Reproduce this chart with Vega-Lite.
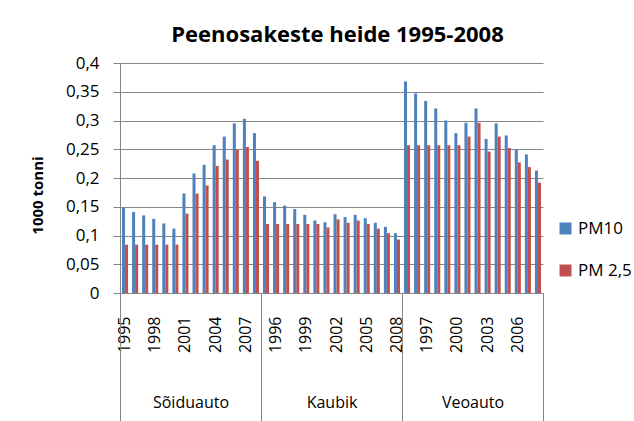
{
  "$schema": "https://vega.github.io/schema/vega-lite/v6.json",
  "width": 423,
  "height": 230,
  "autosize": {"type": "none"},
  "padding": {"left": 120, "top": 63, "right": 91, "bottom": 128},
  "background": "white",
  "title": {"text": "Peenosakeste heide 1995-2008", "font": "Open Sans", "fontSize": 22, "fontWeight": "bold", "color": "black", "anchor": "middle", "offset": 7, "dx": 6},
  "data": {"values": [
    {"group":"Sõiduauto","cat":"Sõiduauto 1995","series":"PM10","value":0.148},{"group":"Sõiduauto","cat":"Sõiduauto 1995","series":"PM 2,5","value":0.084},
    {"group":"Sõiduauto","cat":"Sõiduauto 1996","series":"PM10","value":0.141},{"group":"Sõiduauto","cat":"Sõiduauto 1996","series":"PM 2,5","value":0.084},
    {"group":"Sõiduauto","cat":"Sõiduauto 1997","series":"PM10","value":0.135},{"group":"Sõiduauto","cat":"Sõiduauto 1997","series":"PM 2,5","value":0.084},
    {"group":"Sõiduauto","cat":"Sõiduauto 1998","series":"PM10","value":0.129},{"group":"Sõiduauto","cat":"Sõiduauto 1998","series":"PM 2,5","value":0.084},
    {"group":"Sõiduauto","cat":"Sõiduauto 1999","series":"PM10","value":0.121},{"group":"Sõiduauto","cat":"Sõiduauto 1999","series":"PM 2,5","value":0.084},
    {"group":"Sõiduauto","cat":"Sõiduauto 2000","series":"PM10","value":0.112},{"group":"Sõiduauto","cat":"Sõiduauto 2000","series":"PM 2,5","value":0.084},
    {"group":"Sõiduauto","cat":"Sõiduauto 2001","series":"PM10","value":0.173},{"group":"Sõiduauto","cat":"Sõiduauto 2001","series":"PM 2,5","value":0.138},
    {"group":"Sõiduauto","cat":"Sõiduauto 2002","series":"PM10","value":0.208},{"group":"Sõiduauto","cat":"Sõiduauto 2002","series":"PM 2,5","value":0.173},
    {"group":"Sõiduauto","cat":"Sõiduauto 2003","series":"PM10","value":0.223},{"group":"Sõiduauto","cat":"Sõiduauto 2003","series":"PM 2,5","value":0.187},
    {"group":"Sõiduauto","cat":"Sõiduauto 2004","series":"PM10","value":0.257},{"group":"Sõiduauto","cat":"Sõiduauto 2004","series":"PM 2,5","value":0.221},
    {"group":"Sõiduauto","cat":"Sõiduauto 2005","series":"PM10","value":0.272},{"group":"Sõiduauto","cat":"Sõiduauto 2005","series":"PM 2,5","value":0.232},
    {"group":"Sõiduauto","cat":"Sõiduauto 2006","series":"PM10","value":0.295},{"group":"Sõiduauto","cat":"Sõiduauto 2006","series":"PM 2,5","value":0.249},
    {"group":"Sõiduauto","cat":"Sõiduauto 2007","series":"PM10","value":0.303},{"group":"Sõiduauto","cat":"Sõiduauto 2007","series":"PM 2,5","value":0.254},
    {"group":"Sõiduauto","cat":"Sõiduauto 2008","series":"PM10","value":0.278},{"group":"Sõiduauto","cat":"Sõiduauto 2008","series":"PM 2,5","value":0.230},
    {"group":"Kaubik","cat":"Kaubik 1995","series":"PM10","value":0.168},{"group":"Kaubik","cat":"Kaubik 1995","series":"PM 2,5","value":0.120},
    {"group":"Kaubik","cat":"Kaubik 1996","series":"PM10","value":0.158},{"group":"Kaubik","cat":"Kaubik 1996","series":"PM 2,5","value":0.120},
    {"group":"Kaubik","cat":"Kaubik 1997","series":"PM10","value":0.152},{"group":"Kaubik","cat":"Kaubik 1997","series":"PM 2,5","value":0.120},
    {"group":"Kaubik","cat":"Kaubik 1998","series":"PM10","value":0.146},{"group":"Kaubik","cat":"Kaubik 1998","series":"PM 2,5","value":0.120},
    {"group":"Kaubik","cat":"Kaubik 1999","series":"PM10","value":0.136},{"group":"Kaubik","cat":"Kaubik 1999","series":"PM 2,5","value":0.120},
    {"group":"Kaubik","cat":"Kaubik 2000","series":"PM10","value":0.126},{"group":"Kaubik","cat":"Kaubik 2000","series":"PM 2,5","value":0.120},
    {"group":"Kaubik","cat":"Kaubik 2001","series":"PM10","value":0.123},{"group":"Kaubik","cat":"Kaubik 2001","series":"PM 2,5","value":0.114},
    {"group":"Kaubik","cat":"Kaubik 2002","series":"PM10","value":0.137},{"group":"Kaubik","cat":"Kaubik 2002","series":"PM 2,5","value":0.128},
    {"group":"Kaubik","cat":"Kaubik 2003","series":"PM10","value":0.132},{"group":"Kaubik","cat":"Kaubik 2003","series":"PM 2,5","value":0.122},
    {"group":"Kaubik","cat":"Kaubik 2004","series":"PM10","value":0.136},{"group":"Kaubik","cat":"Kaubik 2004","series":"PM 2,5","value":0.126},
    {"group":"Kaubik","cat":"Kaubik 2005","series":"PM10","value":0.130},{"group":"Kaubik","cat":"Kaubik 2005","series":"PM 2,5","value":0.120},
    {"group":"Kaubik","cat":"Kaubik 2006","series":"PM10","value":0.122},{"group":"Kaubik","cat":"Kaubik 2006","series":"PM 2,5","value":0.112},
    {"group":"Kaubik","cat":"Kaubik 2007","series":"PM10","value":0.115},{"group":"Kaubik","cat":"Kaubik 2007","series":"PM 2,5","value":0.104},
    {"group":"Kaubik","cat":"Kaubik 2008","series":"PM10","value":0.104},{"group":"Kaubik","cat":"Kaubik 2008","series":"PM 2,5","value":0.093},
    {"group":"Veoauto","cat":"Veoauto 1995","series":"PM10","value":0.368},{"group":"Veoauto","cat":"Veoauto 1995","series":"PM 2,5","value":0.257},
    {"group":"Veoauto","cat":"Veoauto 1996","series":"PM10","value":0.347},{"group":"Veoauto","cat":"Veoauto 1996","series":"PM 2,5","value":0.257},
    {"group":"Veoauto","cat":"Veoauto 1997","series":"PM10","value":0.334},{"group":"Veoauto","cat":"Veoauto 1997","series":"PM 2,5","value":0.257},
    {"group":"Veoauto","cat":"Veoauto 1998","series":"PM10","value":0.321},{"group":"Veoauto","cat":"Veoauto 1998","series":"PM 2,5","value":0.257},
    {"group":"Veoauto","cat":"Veoauto 1999","series":"PM10","value":0.300},{"group":"Veoauto","cat":"Veoauto 1999","series":"PM 2,5","value":0.257},
    {"group":"Veoauto","cat":"Veoauto 2000","series":"PM10","value":0.278},{"group":"Veoauto","cat":"Veoauto 2000","series":"PM 2,5","value":0.257},
    {"group":"Veoauto","cat":"Veoauto 2001","series":"PM10","value":0.296},{"group":"Veoauto","cat":"Veoauto 2001","series":"PM 2,5","value":0.272},
    {"group":"Veoauto","cat":"Veoauto 2002","series":"PM10","value":0.321},{"group":"Veoauto","cat":"Veoauto 2002","series":"PM 2,5","value":0.296},
    {"group":"Veoauto","cat":"Veoauto 2003","series":"PM10","value":0.268},{"group":"Veoauto","cat":"Veoauto 2003","series":"PM 2,5","value":0.246},
    {"group":"Veoauto","cat":"Veoauto 2004","series":"PM10","value":0.295},{"group":"Veoauto","cat":"Veoauto 2004","series":"PM 2,5","value":0.272},
    {"group":"Veoauto","cat":"Veoauto 2005","series":"PM10","value":0.274},{"group":"Veoauto","cat":"Veoauto 2005","series":"PM 2,5","value":0.252},
    {"group":"Veoauto","cat":"Veoauto 2006","series":"PM10","value":0.250},{"group":"Veoauto","cat":"Veoauto 2006","series":"PM 2,5","value":0.227},
    {"group":"Veoauto","cat":"Veoauto 2007","series":"PM10","value":0.241},{"group":"Veoauto","cat":"Veoauto 2007","series":"PM 2,5","value":0.219},
    {"group":"Veoauto","cat":"Veoauto 2008","series":"PM10","value":0.213},{"group":"Veoauto","cat":"Veoauto 2008","series":"PM 2,5","value":0.192}
  ]},
  "layer": [
    {
      "mark": {"type": "bar"},
      "encoding": {
        "x": {"field": "cat", "type": "nominal", "sort": null,
          "scale": {"type": "band", "paddingInner": 0.4, "paddingOuter": 0.2},
          "axis": {"orient": "bottom", "title": null, "labelAngle": -90, "labelAlign": "right", "labelBaseline": "middle",
            "labelExpr": "round(datum.index*41) % 3 == 0 ? slice(datum.value, -4) : ''",
            "ticks": false, "labelPadding": 23, "domainColor": "#868686", "domainWidth": 1,
            "labelFont": "Open Sans", "labelFontSize": 16, "labelColor": "black", "grid": false, "labelOverlap": false}},
        "xOffset": {"field": "series", "type": "nominal", "sort": ["PM10", "PM 2,5"], "scale": {"paddingInner": 0, "paddingOuter": 0}},
        "y": {"field": "value", "type": "quantitative",
          "scale": {"domain": [0, 0.4], "nice": false},
          "axis": {"title": "1000 tonni", "titleFont": "Open Sans", "titleFontSize": 15, "titleFontWeight": "bold", "titleColor": "black",
            "titleAngle": -90, "titleX": -83, "titleY": 132, "titleAlign": "center", "titleBaseline": "middle",
            "values": [0, 0.05, 0.1, 0.15, 0.2, 0.25, 0.3, 0.35, 0.4],
            "labelExpr": "replace(format(datum.value, '.2~f'), '.', ',')",
            "labelFont": "Open Sans", "labelFontSize": 17, "labelColor": "black", "labelPadding": 14,
            "tickSize": 7, "tickColor": "#868686", "domainColor": "#868686", "gridColor": "#868686", "gridOpacity": 1}},
        "color": {"field": "series", "type": "nominal",
          "scale": {"domain": ["PM10", "PM 2,5"], "range": ["#4F81BD", "#C0504D"]},
          "legend": {"title": null, "orient": "none", "legendX": 437, "legendY": 157, "padding": 0,
            "symbolType": "square", "symbolSize": 144, "symbolStrokeWidth": 0, "labelFont": "Open Sans", "labelFontSize": 17,
            "labelColor": "black", "labelOffset": 4, "rowPadding": 24}}
      }
    },
    {
      "mark": {"type": "point", "opacity": 0},
      "encoding": {
        "x": {"field": "group", "type": "nominal", "sort": ["Sõiduauto", "Kaubik", "Veoauto"],
          "scale": {"type": "band", "paddingInner": 0, "paddingOuter": 0},
          "axis": {"orient": "bottom", "title": null, "domain": false, "tickBand": "extent", "tickSize": 128,
            "tickColor": "#868686", "tickWidth": 1, "labelAngle": 0, "labelBaseline": "top", "labelPadding": -27,
            "labelFont": "Open Sans", "labelFontSize": 16, "labelColor": "black", "grid": false}}
      }
    }
  ],
  "resolve": {"scale": {"x": "independent"}, "axis": {"x": "independent"}},
  "config": {"view": {"stroke": null}}
}
